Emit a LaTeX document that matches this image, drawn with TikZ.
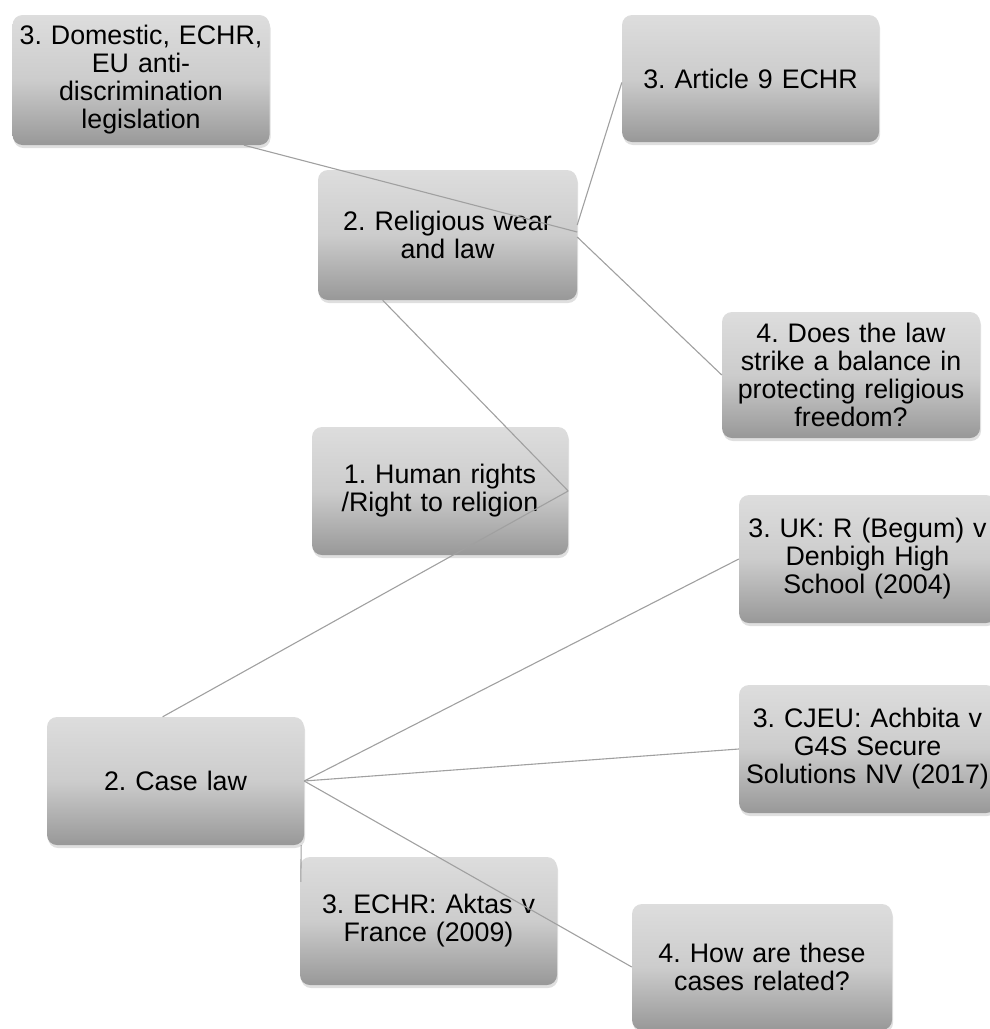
\documentclass[tikz,border=0pt]{standalone}
\usepackage{fontspec}
\setmainfont{Liberation Sans}
\usetikzlibrary{shadows,calc}
\definecolor{gtop}{RGB}{221,221,221}
\definecolor{gmid}{RGB}{204,204,204}
\definecolor{gbot}{RGB}{152,152,152}
\definecolor{linec}{RGB}{160,160,160}
\tikzset{
  box/.style={rounded corners=10pt, minimum width=257pt, minimum height=128pt,
    inner sep=0pt, top color=gtop, bottom color=gbot, middle color=gmid,
    drop shadow={opacity=0.25, shadow xshift=1pt, shadow yshift=-3pt},
    align=center, text width=252pt, text=black,
    font=\fontsize{26.8}{28}\selectfont\frenchspacing},
  link/.style={draw=linec, line width=1.1pt}
}
\begin{document}
\frenchspacing
\begin{tikzpicture}[x=1pt,y=-1pt]
\useasboundingbox (0,0) rectangle (990,1029);
\clip (0,0) rectangle (990,1029);
% nodes
\node[box, minimum height=130pt] (dom) at (141,80) {3. Domestic, ECHR,\\EU anti-\\discrimination\\legislation};
\node[box, minimum height=127pt] (art) at (750.5,78.5) {3. Article 9 ECHR};
\node[box, minimum width=259pt, minimum height=130pt] (rel) at (447.5,235) {2. Religious wear\\and law};
\node[box, minimum width=258pt, minimum height=126pt] (does) at (851,375) {4. Does the law\\strike a balance in\\protecting religious\\freedom?};
\node[box, minimum width=256pt] (hum) at (440,491) {1. Human rights\\/Right to religion};
\node[box] (beg) at (867.5,559) {3. UK: R (Begum) v\\Denbigh High\\School (2004)};
\node[box] (case) at (175.5,781) {2. Case law};
\node[box] (ach) at (867.5,749) {3. CJEU: Achbita v\\G4S Secure\\Solutions NV (2017)};
\node[box] (akt) at (428.5,921) {3. ECHR: Aktas v\\France (2009)};
\node[box, minimum width=260pt, minimum height=126pt] (how) at (762,967) {4. How are these\\cases related?};
% connectors
\draw[link] ($(dom.south west)!0.9!(dom.south east)$) -- ($(rel.east)+(0,-3)$);
\draw[link] ($(art.west)+(0,4)$) -- ($(rel.east)+(0,-10)$);
\draw[link] ($(rel.east)+(0,2)$) -- (does.west);
\draw[link] ($(rel.south west)!0.25!(rel.south east)$) -- (hum.east);
\draw[link] (hum.east) -- ($(case.north west)!0.45!(case.north east)$);
\draw[link] (case.east) -- (beg.west);
\draw[link] (case.east) -- (ach.west);
\draw[link] (case.east) -- (how.west);
\draw[link] ($(case.south east)+(-3,0)$) -- ($(akt.north west)+(1,25)$);
\end{tikzpicture}
\end{document}
